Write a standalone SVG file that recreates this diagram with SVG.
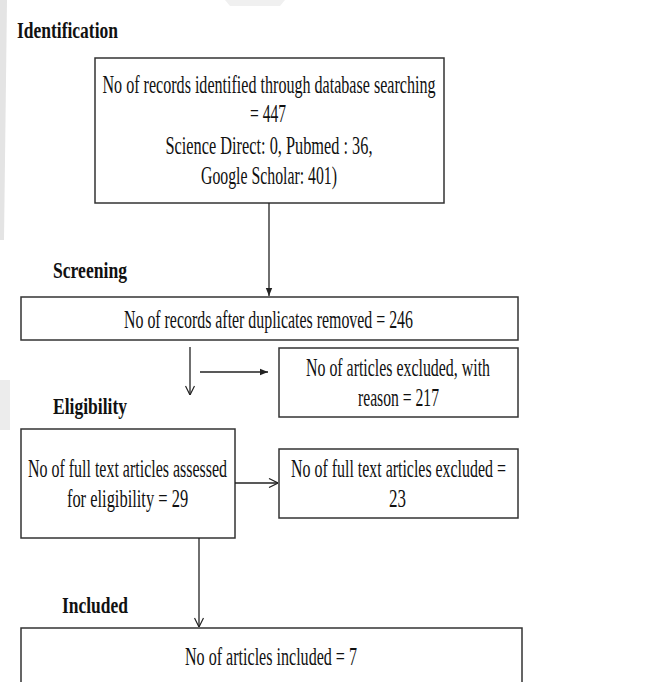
<svg xmlns="http://www.w3.org/2000/svg" width="660" height="682" viewBox="0 0 660 682">
<defs>
<marker id="fa" viewBox="0 0 10 10" refX="10" refY="5" markerWidth="8" markerHeight="8" markerUnits="userSpaceOnUse" orient="auto"><path d="M0,1 L10,5 L0,9 z" fill="#222"/></marker>
<marker id="oa" viewBox="0 0 10 10" refX="10" refY="5" markerWidth="10" markerHeight="10" markerUnits="userSpaceOnUse" orient="auto"><path d="M1,0.5 L10,5 L1,9.5" fill="none" stroke="#222" stroke-width="1.2"/></marker>
</defs>
<style>
text{font-family:"Liberation Serif","Times New Roman",serif;fill:#111;}
.h{font-size:24px;font-weight:bold;}
.t{font-size:26px;text-anchor:middle;}
.box{fill:#fff;stroke:#333;stroke-width:1.5;}
.c{stroke:#222;stroke-width:1.3;fill:none;}
</style>
<rect width="660" height="682" fill="#fff"/>
<path d="M0,0 L7,0 L4,240 L0,240 z" fill="#e4e4e4"/>
<path d="M0,380 L10,380 L10,430 L0,430 z" fill="#ececec"/>
<path d="M225,0 L285,0 L280,6 L230,6 z" fill="#f0f0f0"/>
<g id="labels">
<text class="h" x="17" y="38" textLength="101" lengthAdjust="spacingAndGlyphs">Identification</text>
<text class="h" x="53" y="278" textLength="74" lengthAdjust="spacingAndGlyphs">Screening</text>
<text class="h" x="53" y="414" textLength="74" lengthAdjust="spacingAndGlyphs">Eligibility</text>
<text class="h" x="62" y="613" textLength="66" lengthAdjust="spacingAndGlyphs">Included</text>
</g>
<g id="identified">
<rect class="box" x="95" y="58" width="349" height="145"/>
<text class="t" x="269" y="93" textLength="333" lengthAdjust="spacingAndGlyphs">No of records  identified through database searching</text>
<text class="t" x="268" y="122" textLength="36" lengthAdjust="spacingAndGlyphs">= 447</text>
<text class="t" x="269" y="154" textLength="207" lengthAdjust="spacingAndGlyphs">Science Direct: 0,  Pubmed : 36,</text>
<text class="t" x="269" y="184" textLength="136" lengthAdjust="spacingAndGlyphs">Google Scholar: 401)</text>
</g>
<g id="screened">
<rect class="box" x="21" y="297" width="497" height="43"/>
<text class="t" x="268.5" y="328" textLength="289" lengthAdjust="spacingAndGlyphs">No of records after duplicates removed = 246</text>
</g>
<g id="excluded1">
<rect class="box" x="279" y="348" width="239" height="69"/>
<text class="t" x="398" y="376" textLength="184" lengthAdjust="spacingAndGlyphs">No of articles excluded, with</text>
<text class="t" x="398.5" y="406" textLength="81" lengthAdjust="spacingAndGlyphs">reason = 217</text>
</g>
<g id="eligible">
<rect class="box" x="21" y="429" width="214" height="109"/>
<text class="t" transform="translate(127.5,477) scale(0.6,1)" x="0" y="0" textLength="332" lengthAdjust="spacingAndGlyphs">No of full text articles assessed</text>
<text class="t" transform="translate(127.5,507) scale(0.6,1)" x="0" y="0" textLength="202" lengthAdjust="spacingAndGlyphs">for eligibility  = 29</text>
</g>
<g id="excluded2">
<rect class="box" x="279" y="449" width="239" height="69"/>
<text class="t" transform="translate(398.5,477) scale(0.6,1)" x="0" y="0" textLength="358" lengthAdjust="spacingAndGlyphs">No of full text articles excluded =</text>
<text class="t" x="397.5" y="507" textLength="17" lengthAdjust="spacingAndGlyphs">23</text>
</g>
<g id="included">
<rect class="box" x="21" y="628" width="501" height="70"/>
<text class="t" x="271" y="665" textLength="172" lengthAdjust="spacingAndGlyphs">No of articles included = 7</text>
</g>
<g id="connectors">
<line class="c" x1="269" y1="203" x2="269" y2="296" marker-end="url(#fa)"/>
<line class="c" x1="190" y1="347" x2="190" y2="395" marker-end="url(#oa)"/>
<line class="c" x1="200" y1="372" x2="268" y2="372" marker-end="url(#fa)"/>
<line class="c" x1="235" y1="483" x2="278" y2="483" marker-end="url(#oa)"/>
<line class="c" x1="199" y1="538" x2="199" y2="627" marker-end="url(#oa)"/>
</g>
</svg>
